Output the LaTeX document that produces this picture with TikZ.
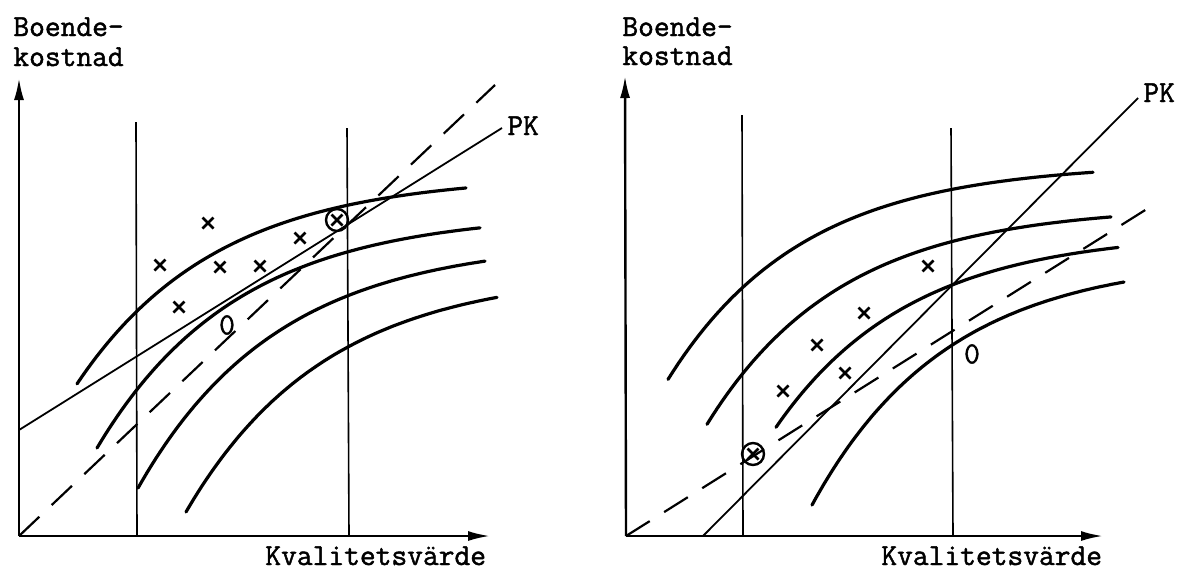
\documentclass[tikz,border=0pt]{standalone}
\usepackage{fontspec}
\newfontfamily\twfont{Latin Modern Mono}[FakeBold=1.5]
\usetikzlibrary{arrows.meta}
\begin{document}
\begin{tikzpicture}[x=0.5pt,y=-0.5pt,
  axis/.style={line width=1.2pt,-{Latex[length=11pt,width=5pt]}},
  guide/.style={line width=0.8pt},
  pkline/.style={line width=0.9pt},
  dashline/.style={line width=1.1pt,dash pattern=on 14pt off 8.5pt},
  icurve/.style={line width=1.6pt,line cap=round},
  lbl/.style={font=\twfont\fontsize{15.3}{18}\selectfont,inner sep=0pt},
  ring/.style={line width=1.2pt},
  xmk/.pic={\draw[line width=1.3pt] (-5.5,-5.5)--(5.5,5.5) (-5.5,5.5)--(5.5,-5.5);}
]
\useasboundingbox (0,0) rectangle (1177,569);

% ---------------- left panel ----------------
\coordinate (LO) at (19,536);
\coordinate (LY) at (19,78);
\coordinate (LX) at (490,536);
\draw[axis] (LO) -- (LY);
\draw[axis] (LO) -- (LX);
\node[lbl,anchor=base west] (lb1) at (13,36) {Boende-};
\node[lbl,anchor=base west] (lb2) at (13,66) {kostnad};
\node[lbl,anchor=base west] (lkv) at (265,565) {Kvalitetsvärde};

\coordinate (LV1t) at (136,122); \coordinate (LV1b) at (137,536);
\coordinate (LV2t) at (347,128); \coordinate (LV2b) at (349,536);
\draw[guide] (LV1t) -- (LV1b);
\draw[guide] (LV2t) -- (LV2b);

\coordinate (LPa) at (19,430); \coordinate (LPb) at (502,128);
\draw[pkline] (LPa) -- (LPb);
\node[lbl,anchor=base west] (lpk) at (507,135) {PK};

\coordinate (LDb) at (495,85);
\draw[dashline] (LO) -- (LDb);

\draw[icurve] plot[domain=77:466,samples=80] (\x,{175+362*exp(-\x/140)});
\draw[icurve] plot[domain=97:480,samples=80] (\x,{212.6+470.6*exp(-\x/140)});
\draw[icurve] plot[domain=138:485,samples=80] (\x,{240.4+663.7*exp(-\x/140)});
\draw[icurve] plot[domain=186:497,samples=80] (\x,{271.3+908.6*exp(-\x/140)});

\foreach \p in {(208,223),(160,265),(220,267),(260,266),(300,238),(179,307),(337,220)}
  \pic at \p {xmk};
\draw[ring] (337,220) circle[radius=11];
\node[lbl] (lzero) at (227,325) {0};

% ---------------- right panel ----------------
\coordinate (RO) at (626,536);
\coordinate (RY) at (625,76);
\coordinate (RX) at (1103,536);
\draw[axis] (RO) -- (RY);
\draw[axis] (RO) -- (RX);
\node[lbl,anchor=base west] (rb1) at (622,36) {Boende-};
\node[lbl,anchor=base west] (rb2) at (622,65) {kostnad};
\node[lbl,anchor=base west] (rkv) at (881,565) {Kvalitetsvärde};

\coordinate (RV1t) at (742,115); \coordinate (RV1b) at (743,536);
\coordinate (RV2t) at (951,128); \coordinate (RV2b) at (953,536);
\draw[guide] (RV1t) -- (RV1b);
\draw[guide] (RV2t) -- (RV2b);

\coordinate (RPa) at (703,536); \coordinate (RPb) at (1138,98);
\draw[pkline] (RPa) -- (RPb);
\node[lbl,anchor=base west] (rpk) at (1143,102) {PK};

\coordinate (RDb) at (1158,202);
\draw[dashline] (RO) -- (RDb);

\draw[icurve] plot[domain=668:1093,samples=80] (\x,{163+295.3*exp(-(\x-626)/135)});
\draw[icurve] plot[domain=707:1111,samples=80] (\x,{206+397.7*exp(-(\x-626)/135)});
\draw[icurve] plot[domain=776:1118,samples=80] (\x,{232+593*exp(-(\x-626)/135)});
\draw[icurve] plot[domain=812:1124,samples=80] (\x,{257.5+981.7*exp(-(\x-626)/135)});

\foreach \p in {(928,266),(864,313),(817,345),(845,373),(783,391),(753,454)}
  \pic at \p {xmk};
\draw[ring] (753,454) circle[radius=11];
\node[lbl] (rzero) at (972,354) {0};
\end{tikzpicture}
\end{document}
